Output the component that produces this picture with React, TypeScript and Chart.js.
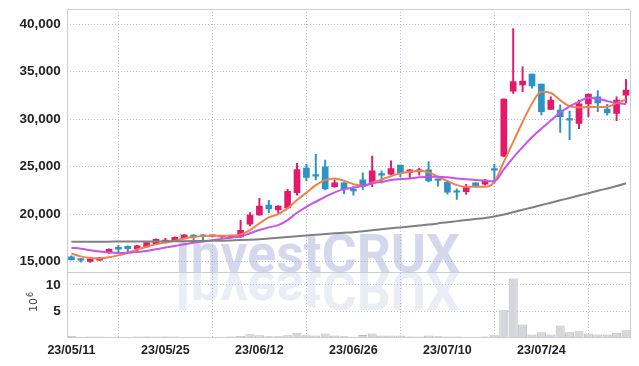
import React, { useEffect, useRef } from "react";
import { Chart, registerables } from "chart.js";

Chart.register(...registerables);

const dates = [
  "23/05/11", "23/05/12", "23/05/15", "23/05/16", "23/05/17", "23/05/18", "23/05/19", "23/05/22", "23/05/23", "23/05/24",
  "23/05/25", "23/05/26", "23/05/30", "23/05/31", "23/06/01", "23/06/02", "23/06/05", "23/06/07", "23/06/08", "23/06/09",
  "23/06/12", "23/06/13", "23/06/14", "23/06/15", "23/06/16", "23/06/19", "23/06/20", "23/06/21", "23/06/22", "23/06/23",
  "23/06/26", "23/06/27", "23/06/28", "23/06/29", "23/06/30", "23/07/03", "23/07/04", "23/07/05", "23/07/06", "23/07/07",
  "23/07/10", "23/07/11", "23/07/12", "23/07/13", "23/07/14", "23/07/17", "23/07/18", "23/07/19", "23/07/20", "23/07/21",
  "23/07/24", "23/07/25", "23/07/26", "23/07/27", "23/07/28", "23/07/31", "23/08/01", "23/08/02", "23/08/03", "23/08/04",
];

const openP = [
  15500, 15250, 15020, 15150, 15950, 16500, 16600, 16350, 16550, 16850,
  17100, 17200, 17450, 17800, 17750, 17650, 17600, 17550, 17600, 18950,
  19900, 20950, 20450, 20650, 22250, 24850, 24080, 24980, 22900, 23300,
  22550, 23600, 23250, 24250, 24200, 25150, 24400, 24500, 24650, 23700,
  23350, 22420, 22350, 23300, 23150, 24770, 26100, 32950, 33600, 34750,
  33700, 31030, 30950, 30050, 29550, 31600, 32350, 31050, 30600, 32530,
];
const highP = [
  15600, 15300, 15280, 15450, 16350, 16700, 16650, 16700, 17050, 17400,
  17450, 17600, 17850, 17850, 17850, 17800, 17750, 17700, 19350, 20150,
  21650, 21450, 20900, 22600, 25350, 25250, 26300, 25700, 23600, 23300,
  22900, 24350, 26100, 24550, 25600, 25150, 24700, 24850, 25500, 23700,
  23550, 22650, 23130, 23300, 23650, 25250, 32150, 39550, 35500, 34750,
  33700, 32350, 31500, 30850, 32000, 32650, 33000, 31550, 32350, 34200,
];
const lowP = [
  15150, 14950, 14900, 15100, 15850, 16050, 16050, 16150, 16500, 16800,
  16950, 17150, 17400, 17250, 17300, 17600, 17550, 17500, 17550, 18750,
  19850, 20150, 20000, 20600, 22000, 23500, 23600, 22550, 22800, 22150,
  22000, 22600, 22900, 23250, 24150, 23950, 23760, 24100, 23400, 22950,
  22100, 21550, 22080, 22850, 23050, 23250, 26050, 32700, 32900, 33250,
  30450, 31000, 28600, 27850, 29000, 30250, 30780, 30430, 29830, 31700,
];
const closeP = [
  15200, 15150, 15250, 15400, 16300, 16300, 16350, 16650, 17000, 17350,
  17250, 17550, 17800, 17600, 17650, 17750, 17700, 17650, 18300, 19900,
  20850, 20550, 20850, 22400, 24700, 23850, 24000, 22650, 23300, 22650,
  22450, 22900, 24550, 24100, 24800, 24300, 24650, 24650, 23500, 23550,
  22300, 22300, 22800, 22900, 23580, 24630, 32100, 33950, 34000, 33500,
  30800, 32000, 30250, 29900, 31600, 32650, 31700, 30650, 32000, 33050,
];

// volume in millions of shares
const volume = [
  0.3, 0.1, 0.2, 0.2, 0.05, 0.05, 0.05, 0.2, 0.2, 0.2,
  0.2, 0.2, 0.05, 0.05, 0.05, 0.05, 0.1, 0.2, 0.3, 0.65,
  0.45, 0.25, 0.25, 0.45, 0.9, 0.45, 0.4, 0.8, 0.4, 0.25,
  0.15, 0.5, 0.8, 0.4, 0.4, 0.4, 0.2, 0.2, 0.4, 0.25,
  0.2, 0.2, 0.05, 0.1, 0.2, 0.45, 5.2, 11.2, 2.5, 0.6,
  1.0, 0.6, 2.3, 1.0, 1.2, 0.8, 0.6, 0.6, 0.9, 1.4,
];

const ma5 = [
  15850, 15550, 15380, 15330, 15450, 15650, 15930, 16280, 16560, 16810,
  17020, 17190, 17440, 17580, 17680, 17720, 17720, 17740, 17860, 18320,
  19020, 19650, 20000, 20600, 21480, 22240, 23050, 23580, 23760, 23510,
  23160, 22950, 23300, 23650, 24000, 24290, 24460, 24530, 24390, 23930,
  23480, 23050, 22880, 22880, 22880, 23400, 25500, 27600, 29700, 31650,
  32880, 32750, 32000, 31370, 31240, 31270, 31270, 31300, 31690, 32080,
];
const ma20 = [
  16450, 16350, 16200, 16050, 15950, 15900, 15920, 16000, 16120, 16300,
  16480, 16650, 16820, 16980, 17100, 17250, 17400, 17520, 17650, 17980,
  18320, 18600, 18840, 19370, 20140, 20770, 21300, 21820, 22290, 22630,
  22770, 22980, 23230, 23400, 23580, 23690, 23760, 23870, 23930, 23930,
  23870, 23760, 23660, 23580, 23510, 23450, 24700, 25950, 27050, 28100,
  29000, 29850, 30700, 31350, 31850, 32250, 32150, 31900, 31700, 31600,
];
const ma60 = [
  17080, 17085, 17090, 17095, 17100, 17105, 17110, 17115, 17120, 17125,
  17130, 17140, 17150, 17160, 17170, 17185, 17200, 17230, 17260, 17300,
  17350, 17420, 17500, 17580, 17660, 17740, 17820, 17900, 17980, 18040,
  18100, 18200, 18300, 18400, 18500, 18600, 18700, 18800, 18900, 19020,
  19150, 19260, 19370, 19480, 19600, 19750, 19950, 20200, 20450, 20700,
  20950, 21200, 21450, 21700, 21950, 22200, 22450, 22700, 22950, 23250,
];

const priceTicks = [15000, 20000, 25000, 30000, 35000, 40000];
const volumeTicks = [5, 10];
const labelEvery = 10;

const UP = "#e5196b";
const DOWN = "#2b93c6";
const GRID = "rgba(165,168,210,0.75)";
const FRAME = "#cbccd6";
const FAMILY = "'Liberation Sans', Arial, sans-serif";
const Y_FONT = { family: FAMILY, size: 13.5, weight: "bold" as const };
const X_FONT = { family: FAMILY, size: 12.5, weight: "bold" as const };

const watermark = {
  id: "watermark",
  beforeDatasetsDraw(chart: any) {
    const ctx = chart.ctx;
    const text = "InvestCRUX";
    ctx.save();
    ctx.font = "bold 54px Roboto, 'DejaVu Sans', sans-serif";
    const w = ctx.measureText(text).width;
    ctx.translate(175, 272);
    ctx.scale(285 / w, 1);
    ctx.textBaseline = "alphabetic";
    ctx.fillStyle = "rgba(155,163,210,0.42)";
    ctx.fillText(text, 0, 0);
    ctx.scale(1, -1);
    ctx.fillStyle = "rgba(155,163,210,0.2)";
    ctx.fillText(text, 0, 0);
    ctx.restore();
  },
};

const frame = {
  id: "frame",
  afterDatasetsDraw(chart: any) {
    const { ctx, chartArea: a, scales } = chart;
    ctx.save();
    ctx.strokeStyle = FRAME;
    ctx.lineWidth = 1;
    ctx.strokeRect(Math.round(a.left) + 0.5, Math.round(a.top) + 0.5, Math.round(a.width) - 1, Math.round(a.height) - 1);
    const yb = Math.round(scales.y.bottom) + 0.5;
    ctx.beginPath();
    ctx.moveTo(a.left, yb);
    ctx.lineTo(a.right, yb);
    ctx.stroke();
    // volume unit label 10^6
    ctx.fillStyle = "#444";
    ctx.translate(36.5, 305);
    ctx.rotate(-Math.PI / 2);
    ctx.textBaseline = "alphabetic";
    ctx.textAlign = "center";
    ctx.font = "11px 'DejaVu Sans', sans-serif";
    ctx.fillText("10", 0, 0);
    ctx.textAlign = "left";
    ctx.font = "8px 'DejaVu Sans', sans-serif";
    ctx.fillText("6", 8, -4);
    ctx.restore();
  },
};

export default function App() {
  const ref = useRef<HTMLCanvasElement | null>(null);

  useEffect(() => {
    if (!ref.current) return;
    const colors = closeP.map((c, i) => (c >= openP[i] ? UP : DOWN));
    const lineBase = { type: "line" as const, pointRadius: 0, borderWidth: 2, fill: false, cubicInterpolationMode: "monotone" as const, yAxisID: "y", order: 0 };
    const noPadV = (s: any) => { s.width = 66.7; s.paddingTop = 0; s.paddingBottom = 0; };
    const chart = new Chart(ref.current, {
      type: "bar",
      data: {
        labels: dates,
        datasets: [
          { ...lineBase, label: "MA60", data: ma60, borderColor: "#808080" },
          { ...lineBase, label: "MA20", data: ma20, borderColor: "#c954e6" },
          { ...lineBase, label: "MA5", data: ma5, borderColor: "#f08148" },
          {
            type: "bar", label: "wick", data: lowP.map((l, i) => [l, highP[i]]) as any,
            backgroundColor: colors, barThickness: 1.3, grouped: false, yAxisID: "y", order: 2,
          },
          {
            type: "bar", label: "body", data: openP.map((o, i) => [o, closeP[i]]) as any,
            backgroundColor: colors, barThickness: 6, grouped: false, minBarLength: 1.5, yAxisID: "y", order: 1,
          },
          {
            type: "bar", label: "volume", data: volume,
            backgroundColor: "#d6d7dc", borderColor: "#b9bac2", borderWidth: 1,
            barPercentage: 0.96, categoryPercentage: 1, grouped: false, yAxisID: "yv", order: 3,
          },
        ],
      },
      options: {
        animation: false,
        responsive: false,
        maintainAspectRatio: false,
        layout: { padding: { top: 9, right: 8.3, left: 0, bottom: 0 } },
        plugins: { legend: { display: false }, tooltip: { enabled: false }, title: { display: false } },
        scales: {
          x: {
            type: "category",
            offset: true,
            grid: { color: GRID, drawTicks: false, lineWidth: 1 },
            border: { display: false, dash: [1, 2] },
            ticks: {
              autoSkip: false, maxRotation: 0, padding: 5, color: "#222", font: X_FONT,
              callback: (_v: any, i: number) => (i % labelEvery === 0 ? dates[i] : null),
            },
            afterFit: (s: any) => { s.height = 28.4; s.paddingLeft = 0; s.paddingRight = 0; },
          },
          yv: {
            type: "linear", position: "left", stack: "main", stackWeight: 65.3,
            min: 0, max: 12.4,
            grid: { color: GRID, drawTicks: false },
            border: { display: false, dash: [1, 2] },
            ticks: { padding: 6, color: "#222", font: Y_FONT },
            afterBuildTicks: (s: any) => { s.ticks = volumeTicks.map((v) => ({ value: v })); },
            afterFit: noPadV,
          },
          y: {
            type: "linear", position: "left", stack: "main", stackWeight: 263.3,
            min: 13870, max: 41600,
            grid: { color: GRID, drawTicks: false },
            border: { display: false, dash: [1, 2] },
            ticks: {
              padding: 6, color: "#222", font: Y_FONT,
              callback: (v: any) => Number(v).toLocaleString("en-US"),
            },
            afterBuildTicks: (s: any) => { s.ticks = priceTicks.map((v) => ({ value: v })); },
            afterFit: noPadV,
          },
        } as any,
      },
      plugins: [watermark, frame],
    });
    return () => chart.destroy();
  }, []);

  return (
    <div style={{ position: "absolute", left: 0, top: 0, width: 639, height: 366, background: "#fff" }}>
      <canvas ref={ref} width={639} height={366} style={{ display: "block", width: 639, height: 366 }} />
    </div>
  );
}
